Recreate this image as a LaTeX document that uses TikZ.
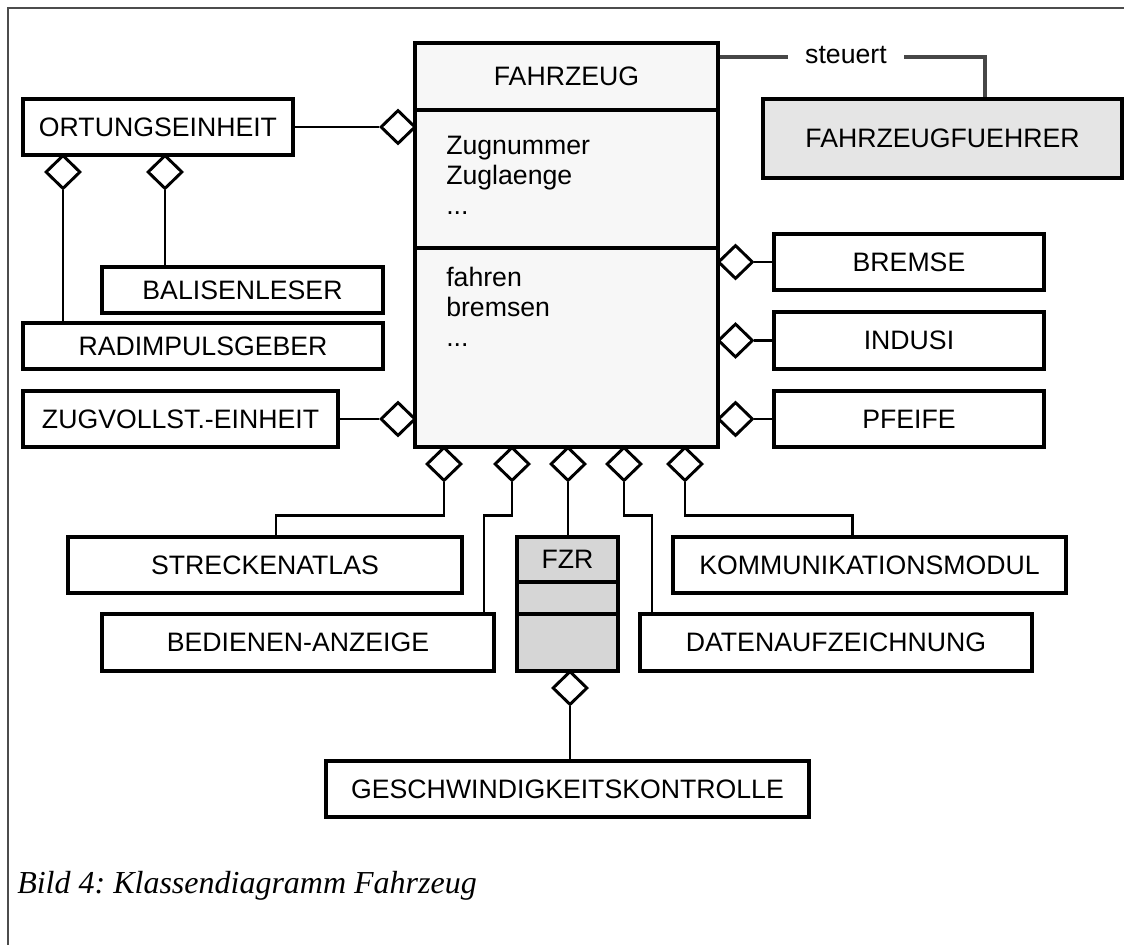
\documentclass[tikz,border=0pt]{standalone}
\usepackage{fontspec}
\setmainfont{Liberation Sans}
\newfontfamily\bildfont{Liberation Serif}
\usetikzlibrary{shapes.geometric}
\frenchspacing

\begin{document}
\begin{tikzpicture}[x=0.75pt, y=-0.75pt]
    \tikzstyle{klasse} = [rectangle, draw=black, line width=2.4pt, fill=white, inner sep=0pt, text centered, font=\fontsize{20}{22.5}\selectfont]
    \tikzstyle{fzfeld} = [klasse, fill=black!3, minimum width=227.25pt]
    \tikzstyle{fzrfeld} = [klasse, fill=black!16, minimum width=75.75pt]
    \tikzstyle{eintrag} = [anchor=north west, align=left, inner sep=0pt, font=\fontsize{20}{22.5}\selectfont]
    \tikzstyle{beschr} = [inner xsep=13pt, inner ysep=0pt, font=\fontsize{20}{22.5}\selectfont]
    \tikzstyle{agg} = [diamond, draw=black, fill=white, line width=2.2pt, inner sep=0pt, minimum width=26.25pt, minimum height=25.5pt]
    \tikzstyle{linie} = [line width=2.2pt]
    \tikzstyle{assoc} = [line width=3pt, draw=black!72]
    \tikzstyle{rahmen} = [line width=1.3pt, draw=black!70]

    \useasboundingbox (0,0) rectangle (1124,945);
    \draw [rahmen] (8,945) -- (8,8) -- (1124,8);

    % Klasse FAHRZEUG
    \node (fzkopf) [fzfeld, minimum height=50.25pt] at (566.5,76.5) {FAHRZEUG};
    \node (fzattr) [fzfeld, minimum height=103.5pt] at (566.5,179) {};
    \node (fzops) [fzfeld, minimum height=149.25pt] at (566.5,347.5) {};
    \node (attrtext) [eintrag] at (446,136) {Zugnummer\\Zuglaenge\\...};
    \node (opstext) [eintrag] at (446,267) {fahren\\bremsen\\...};

    \node (fuehrer) [klasse, fill=black!10, minimum width=269.25pt, minimum height=59.25pt] at (942.5,138.5) {FAHRZEUGFUEHRER};
    \node (steuert) [beschr] at (846,55) {steuert};
    \coordinate (s0) at ([yshift=-12pt]fzkopf.north east);
    \draw [assoc] (s0) -- (s0 -| steuert.west);
    \draw [assoc] (s0 -| steuert.east) -| ([xshift=31.9pt]fuehrer.north);

    \node (ortung) [klasse, minimum width=202.5pt, minimum height=42pt] at (158,127) {ORTUNGSEINHEIT};
    \node (balisen) [klasse, minimum width=210.75pt, minimum height=34.5pt] at (242.5,290) {BALISENLESER};
    \node (radimp) [klasse, minimum width=270pt, minimum height=34.5pt] at (203,346) {RADIMPULSGEBER};
    \node (zugvoll) [klasse, minimum width=236.25pt, minimum height=42pt] at (180.5,419) {ZUGVOLLST.-EINHEIT};

    \node (bremse) [klasse, minimum width=202.5pt, minimum height=42pt] at (909,262) {BREMSE};
    \node (indusi) [klasse, minimum width=202.5pt, minimum height=42.75pt] at (909,340.5) {INDUSI};
    \node (pfeife) [klasse, minimum width=202.5pt, minimum height=42pt] at (909,419) {PFEIFE};

    \node (strecke) [klasse, minimum width=295.5pt, minimum height=42pt] at (265,565) {STRECKENATLAS};
    \node (bedienen) [klasse, minimum width=294pt, minimum height=42.75pt] at (298,642.5) {BEDIENEN-ANZEIGE};
    \node (komm) [klasse, minimum width=294.75pt, minimum height=42pt] at (869.5,565) {KOMMUNIKATIONSMODUL};
    \node (daten) [klasse, minimum width=294pt, minimum height=42.75pt] at (836,642.5) {DATENAUFZEICHNUNG};

    % Klasse FZR
    \node (fzrkopf) [fzrfeld, minimum height=33.75pt] at (567.5,559.5) {FZR};
    \node (fzrattr) [fzrfeld, minimum height=24pt] at (567.5,598) {};
    \node (fzrops) [fzrfeld, minimum height=42.75pt] at (567.5,642.5) {};

    \node (geschw) [klasse, minimum width=362.25pt, minimum height=42pt] at (567.5,789) {GESCHWINDIGKEITSKONTROLLE};

    % Aggregationen
    \node (aort) [agg] at (398,127) {};
    \node (azug) [agg] at (398,419) {};
    \node (arad) [agg] at (63,172) {};
    \node (abal) [agg] at (165,172) {};
    \node (abrems) [agg] at (735.5,262) {};
    \node (aindusi) [agg] at (735.5,340.5) {};
    \node (apfeife) [agg] at (735.5,419) {};
    \node (astreck) [agg] at (444,464) {};
    \node (abedien) [agg] at (512,464) {};
    \node (afzr) [agg] at (568,464) {};
    \node (adaten) [agg] at (624,464) {};
    \node (akomm) [agg] at (685,464) {};
    \node (ageschw) [agg] at (570,688) {};

    \draw [linie] (ortung) -- (aort);
    \draw [linie] (zugvoll) -- (azug);
    \draw [linie] (abrems) -- (bremse);
    \draw [linie] (aindusi) -- (indusi);
    \draw [linie] (apfeife) -- (pfeife);
    \draw [linie] (arad.south) -- (arad.south |- radimp.north);
    \draw [linie] (abal.south) -- (abal.south |- balisen.north);
    \draw [linie] (astreck.south) -- ++(0,33) -| ([xshift=8.25pt]strecke.north);
    \draw [linie] (abedien.south) -- ++(0,33) -| ([xshift=139.5pt]bedienen.north);
    \draw [linie] (afzr.south) -- (afzr.south |- fzrkopf.north);
    \draw [linie] (adaten.south) -- ++(0,33) -| ([xshift=-138pt]daten.north);
    \draw [linie] (akomm.south) -- ++(0,33) -| ([xshift=-13.1pt]komm.north);
    \draw [linie] (ageschw.south) -- (ageschw.south |- geschw.north);

    \node (bild) [anchor=base west, inner sep=0pt, font=\bildfont\itshape\fontsize{24}{28}\selectfont] at (17,893) {Bild 4: Klassendiagramm Fahrzeug};
\end{tikzpicture}
\end{document}
